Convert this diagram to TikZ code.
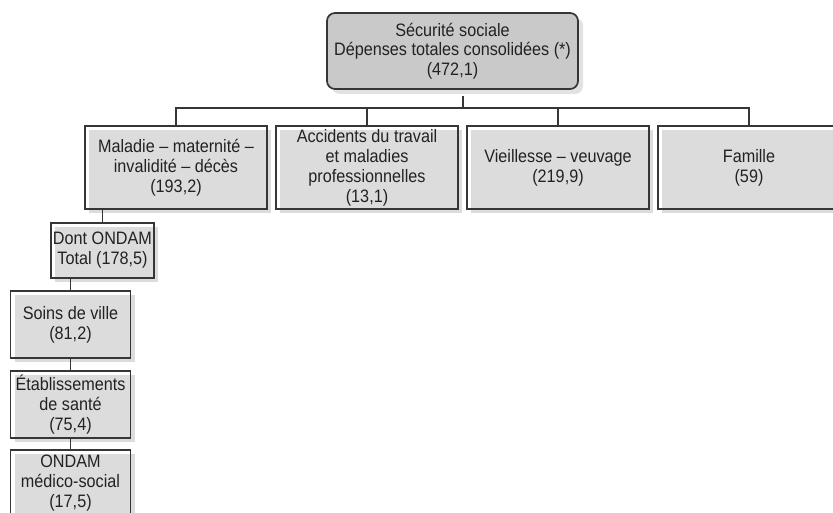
\documentclass[tikz,border=0pt]{standalone}
\usepackage{fontspec}
\setmainfont{Liberation Sans}[FakeStretch=0.9]
\usetikzlibrary{shadows}
\definecolor{linec}{HTML}{363636}
\definecolor{txtc}{HTML}{222222}
\definecolor{boxgrey}{HTML}{DCDCDC}
\definecolor{topgrey}{HTML}{C9C9C9}
\definecolor{topshadow}{HTML}{E2E2E2}
\tikzset{
  lowbox/.style={draw=linec, line width=1.6pt, inner sep=0pt, align=center,
    text=txtc, font=\fontsize{18pt}{20pt}\selectfont,
    drop shadow={shadow xshift=4pt, shadow yshift=-4pt, fill=boxgrey, opacity=1}},
  topbox/.style={draw=linec, line width=1.7pt, rounded corners=8pt, inner sep=0pt,
    align=center, fill=topgrey, text=txtc, font=\fontsize{18pt}{19.5pt}\selectfont,
    minimum width=251pt, minimum height=76pt,
    drop shadow={shadow xshift=5pt, shadow yshift=-5pt, fill=topshadow, opacity=1}},
  branch/.style={lowbox, minimum width=182pt, minimum height=83pt},
  leaf/.style={lowbox, minimum width=120pt, minimum height=67pt},
  conn/.style={draw=linec, line width=1.6pt}
}
\begin{document}
\begin{tikzpicture}[x=1pt,y=-1pt]
\clip (0,0) rectangle (833,513);
\fill[white] (0,0) rectangle (833,513);
\node[topbox] (top) at (452.5,51) {Sécurité sociale\\Dépenses totales consolidées (*)\\(472,1)};
\node[branch] (mal) at (176,167.5) {Maladie – maternité –\\invalidité – décès\\(193,2)};
\node[branch] (acc) at (367,167.5) {Accidents du travail\\et maladies\\professionnelles\\(13,1)};
\node[branch] (vie) at (558,167.5) {Vieillesse – veuvage\\(219,9)};
\node[branch] (fam) at (749,167.5) {Famille\\(59)};
\node[lowbox, minimum width=103pt, minimum height=55pt] (dont) at (102.5,250.5) {Dont ONDAM\\Total (178,5)};
\node[leaf] (soins) at (70.5,324.5) {Soins de ville\\(81,2)};
\node[leaf] (etab) at (70.5,404.5) {Établissements\\de santé\\(75,4)};
\node[leaf] (ondam) at (70.5,483.5) {ONDAM\\médico-social\\(17,5)};
\coordinate (topout) at ([xshift=10.5pt,yshift=-6pt]top.south);
\coordinate (bus) at (463,108);
\draw[conn] (topout) -- (bus);
\draw[conn] (mal.north) |- (bus) -| (fam.north);
\draw[conn] (acc.north) -- (acc.north |- bus);
\draw[conn] (vie.north) -- (vie.north |- bus);
\draw[conn] (mal.south -| dont.north) -- (dont.north);
\draw[conn] (dont.south -| soins.north) -- (soins.north);
\draw[conn] (soins.south) -- (etab.north);
\draw[conn] (etab.south) -- (ondam.north);
\end{tikzpicture}
\end{document}
